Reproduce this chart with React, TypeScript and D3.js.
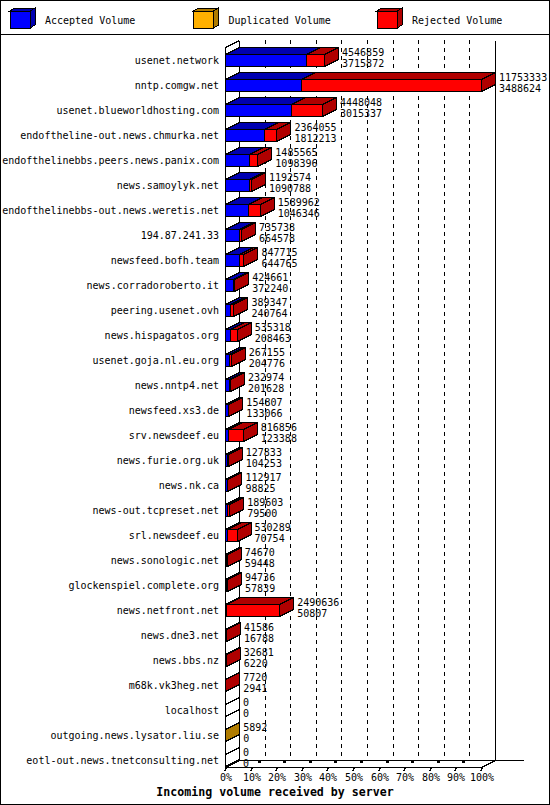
import { useEffect, useRef } from 'react';
import * as d3 from 'd3';

const servers = [
  'usenet.network', 'nntp.comgw.net', 'usenet.blueworldhosting.com',
  'endoftheline-out.news.chmurka.net', 'endofthelinebbs.peers.news.panix.com',
  'news.samoylyk.net', 'endofthelinebbs-out.news.weretis.net', '194.87.241.33',
  'newsfeed.bofh.team', 'news.corradoroberto.it', 'peering.usenet.ovh',
  'news.hispagatos.org', 'usenet.goja.nl.eu.org', 'news.nntp4.net',
  'newsfeed.xs3.de', 'srv.newsdeef.eu', 'news.furie.org.uk', 'news.nk.ca',
  'news-out.tcpreset.net', 'srl.newsdeef.eu', 'news.sonologic.net',
  'glockenspiel.complete.org', 'news.netfront.net', 'news.dne3.net',
  'news.bbs.nz', 'm68k.vk3heg.net', 'localhost', 'outgoing.news.lysator.liu.se',
  'eotl-out.news.tnetconsulting.net',
];

const totalVolume = [
  4546859, 11753333, 4448048, 2364055, 1485565, 1192574, 1589962, 735738,
  847715, 424661, 389347, 535318, 267155, 232974, 154807, 816856, 127833,
  112917, 189603, 530289, 74670, 94736, 2490636, 41586, 32681, 7720, 0, 5892, 0,
];

const acceptedVolume = [
  3715872, 3488624, 3015337, 1812213, 1098396, 1090788, 1046346, 664578,
  644765, 372240, 240764, 208463, 204776, 201628, 133066, 123388, 104253,
  98825, 79500, 70754, 59448, 57839, 50807, 16788, 6220, 2941, 0, 0, 0,
];

const duplicatedVolume = [
  0, 0, 0, 0, 0, 0, 0, 0, 0, 0, 0, 0, 0, 0, 0, 0, 0, 0, 0, 0, 0, 0, 0, 0, 0, 0, 0, 5892, 0,
];

const legendLabels = ['Accepted Volume', 'Duplicated Volume', 'Rejected Volume'];
const percentTicks = [0, 10, 20, 30, 40, 50, 60, 70, 80, 90, 100];

const COLORS = [
  { front: '#0000ff', dark: '#0000b0' },
  { front: '#ffb000', dark: '#b07c00' },
  { front: '#ff0000', dark: '#b00000' },
];

const MONO = '"DejaVu Sans Mono", "Liberation Mono", monospace';

export default function App() {
  const ref = useRef<SVGSVGElement>(null);
  const width = 550;
  const height = 805;

  useEffect(() => {
    if (!ref.current) return;
    const svg = d3.select(ref.current);
    svg.selectAll('*').remove();

    const DX = 14, DY = -7;      // 3D depth
    const x0 = 225, x1 = 481;    // front plane 0%..100%
    const yTop = 47, yBottom = 772;
    const baseF = 767;

    const maxTotal = d3.max(totalVolume) as number;
    const xScale = d3.scaleLinear().domain([0, maxTotal]).range([x0, x1]);
    const pct = d3.scaleLinear().domain([0, 100]).range([x0, x1]);
    const yScale = d3.scaleBand<string>().domain(servers).range([yTop, yBottom]);

    svg.append('rect')
      .attr('width', width).attr('height', height).attr('fill', '#fff');

    const g = svg.append('g').attr('shape-rendering', 'crispEdges');

    // --- legend ---
    legendLabels.forEach((label, i) => {
      const lx = 10 + i * 183.5;
      const c = COLORS[i];
      g.append('polygon')
        .attr('points', `${lx},11 ${lx + 5},8 ${lx + 25},8 ${lx + 20},11`)
        .attr('fill', c.dark).attr('stroke', '#000');
      g.append('polygon')
        .attr('points', `${lx + 20},11 ${lx + 25},8 ${lx + 25},25 ${lx + 20},28`)
        .attr('fill', c.dark).attr('stroke', '#000');
      g.append('rect')
        .attr('x', lx).attr('y', 11).attr('width', 20).attr('height', 17)
        .attr('fill', c.front).attr('stroke', '#000');
      svg.append('text')
        .attr('x', lx + 35).attr('y', 24)
        .attr('font-family', MONO).attr('font-size', 10)
        .text(label);
    });

    g.append('line')
      .attr('x1', 0).attr('x2', width).attr('y1', 34.5).attr('y2', 34.5)
      .attr('stroke', '#000');

    // --- grid (back plane) ---
    g.selectAll('.grid')
      .data(percentTicks.slice(1, -1))
      .enter().append('line')
      .attr('x1', (d: number) => Math.round(pct(d) + DX) + 0.5)
      .attr('x2', (d: number) => Math.round(pct(d) + DX) + 0.5)
      .attr('y1', yTop + DY).attr('y2', baseF + DY)
      .attr('stroke', '#000').attr('stroke-dasharray', '4,4');

    const axis = [
      [x0, yTop, x0, baseF],
      [x0 + DX, yTop + DY, x0 + DX, baseF + DY],
      [x1 + DX, yTop + DY, x1 + DX, baseF + DY],
      [x0, yTop, x0 + DX, yTop + DY],
      [x0, baseF, x0 + DX, baseF + DY],
      [x1, baseF, x1 + DX, baseF + DY],
      [x0, baseF, x1, baseF],
      [x0 + DX, baseF + DY, 523, baseF + DY],
    ];
    g.selectAll('.axis')
      .data(axis)
      .enter().append('line')
      .attr('x1', (d: number[]) => d[0] + 0.5).attr('y1', (d: number[]) => d[1] + 0.5)
      .attr('x2', (d: number[]) => d[2] + 0.5).attr('y2', (d: number[]) => d[3] + 0.5)
      .attr('stroke', '#000');

    // tick marks
    percentTicks.forEach((p) => {
      const tx = Math.round(pct(p));
      g.append('line')
        .attr('x1', tx - 0.5).attr('y1', baseF + 4.5)
        .attr('x2', tx + 1.5).attr('y2', baseF + 0.5)
        .attr('stroke', '#000');
      if (p > 0 && p < 100) {
        g.append('rect')
          .attr('x', tx + 7).attr('y', baseF - 6).attr('width', 3).attr('height', 2)
          .attr('fill', '#000');
      }
      svg.append('text')
        .attr('x', tx + 1).attr('y', 781)
        .attr('text-anchor', 'middle')
        .attr('font-family', MONO).attr('font-size', 10)
        .text(`${p}%`);
    });

    // --- bars ---
    servers.forEach((name, i) => {
      const c = (yScale(name) as number) + yScale.bandwidth() / 2;
      const yt = Math.round(c - 6) + 0.5;
      const yb = yt + 12;
      const rejected = totalVolume[i] - acceptedVolume[i] - duplicatedVolume[i];
      const parts = [acceptedVolume[i], duplicatedVolume[i], rejected];
      let acc = 0;
      let lastColor = '#ffffff';
      const bar = g.append('g');
      parts.forEach((v, k) => {
        if (v <= 0) return;
        const a = Math.round(xScale(acc)) + 0.5;
        const b = Math.round(xScale(acc + v)) + 0.5;
        acc += v;
        lastColor = COLORS[k].dark;
        bar.append('polygon')
          .attr('points', `${a},${yt} ${a + DX},${yt + DY} ${b + DX},${yt + DY} ${b},${yt}`)
          .attr('fill', COLORS[k].dark).attr('stroke', '#000');
        bar.append('rect')
          .attr('x', a).attr('y', yt).attr('width', Math.max(0, b - a)).attr('height', 12)
          .attr('fill', COLORS[k].front).attr('stroke', '#000');
      });
      const e = Math.round(xScale(acc)) + 0.5;
      bar.append('polygon')
        .attr('points', `${e},${yt} ${e + DX},${yt + DY} ${e + DX},${yb + DY} ${e},${yb}`)
        .attr('fill', lastColor).attr('stroke', '#000');

      // server label
      svg.append('text')
        .attr('x', 219).attr('y', c + 4)
        .attr('text-anchor', 'end')
        .attr('font-family', MONO).attr('font-size', 10)
        .text(name);

      // values
      const vx = xScale(totalVolume[i]) + DX + 4;
      svg.append('text')
        .attr('x', vx).attr('y', c - 4)
        .attr('font-family', MONO).attr('font-size', 10)
        .text(totalVolume[i]);
      svg.append('text')
        .attr('x', vx).attr('y', c + 7)
        .attr('font-family', MONO).attr('font-size', 10)
        .text(acceptedVolume[i]);
    });

    // title
    svg.append('text')
      .attr('x', 275).attr('y', 796)
      .attr('text-anchor', 'middle')
      .attr('font-family', MONO).attr('font-size', 11.6).attr('font-weight', 'bold')
      .text('Incoming volume received by server');

    // border
    g.append('rect')
      .attr('x', 0.5).attr('y', 0.5).attr('width', width - 1).attr('height', height - 1)
      .attr('fill', 'none').attr('stroke', '#000');
  }, []);

  return (
    <svg
      ref={ref}
      width={width}
      height={height}
      style={{ position: 'absolute', left: 0, top: 0, display: 'block' }}
    />
  );
}
